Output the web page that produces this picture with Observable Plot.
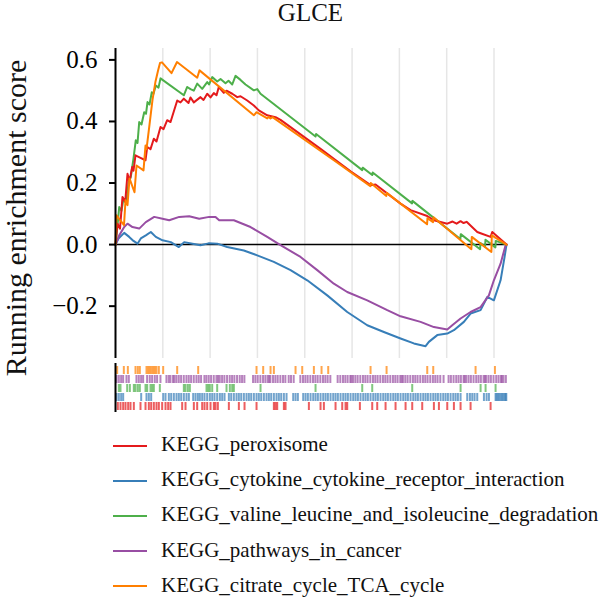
<!DOCTYPE html>
<html>
<head>
<meta charset="utf-8">
<script src="https://cdn.jsdelivr.net/npm/d3@7"></script>
<script src="https://cdn.jsdelivr.net/npm/@observablehq/plot@0.6"></script>
<style>
  html, body { margin: 0; padding: 0; background: #fff; }
  body { position: relative; width: 600px; height: 600px; overflow: hidden; font-family: "Liberation Serif", "Times New Roman", serif; color: #111; }
  #title { height: 40px; margin-left: 115px; width: 391px; text-align: center; font-size: 25px; line-height: 26px; }
  #ylabel { position: absolute; left: 16px; top: 218px; transform: translate(-50%, -50%) rotate(-90deg); white-space: nowrap; font-size: 30px; line-height: 30px; }
  #chart svg, #rug svg { display: block; }
  #legend { margin-top: 13px; }
  .row { position: relative; height: 35.2px; }
  .row .swatch { position: absolute; left: 113px; top: 17.7px; width: 34px; height: 2px; }
  .row .name { position: absolute; left: 161px; top: 0; line-height: 35.2px; font-size: 21px; white-space: nowrap; }
</style>
</head>
<body>
<div id="title">GLCE</div>
<div id="chart"></div>
<div id="rug"></div>
<div id="legend"></div>
<div id="ylabel">Running enrichment score</div>
<script>
// Gene sets, in legend order, and their colours
const geneSets = [
  "KEGG_peroxisome",
  "KEGG_cytokine_cytokine_receptor_interaction",
  "KEGG_valine_leucine_and_isoleucine_degradation",
  "KEGG_pathways_in_cancer",
  "KEGG_citrate_cycle_TCA_cycle"
];
const setColors = ["#e41a1c", "#377eb8", "#4daf4a", "#984ea3", "#ff7f00"];

// Ranked gene list length, vertical grid positions and y ticks
const rankCount = 20660;
const gridRanks = [2500, 5000, 7500, 10000, 12500, 15000, 17500, 20000];
const yTicks = [-0.2, 0, 0.2, 0.4, 0.6];

// Running enrichment score, [rank, ES]
const peroxisomeES = [[0,0],[106,0.068],[238,0.052],[370,0.155],[513,0.138],[634,0.23],[740,0.205],[883,0.252],[951,0.24],[1057,0.29],[1320,0.282],[1586,0.274],[1675,0.317],[1850,0.31],[2024,0.344],[2167,0.335],[2378,0.382],[2537,0.375],[2732,0.404],[2907,0.398],[3261,0.468],[3435,0.462],[3610,0.474],[3858,0.46],[3964,0.478],[4138,0.462],[4492,0.479],[4651,0.47],[4846,0.49],[5021,0.478],[5195,0.492],[5338,0.485],[5459,0.512],[5724,0.493],[5866,0.5],[6168,0.49],[6432,0.479],[6606,0.482],[6960,0.468],[7309,0.452],[7573,0.436],[8017,0.42],[8456,0.414],[8720,0.405],[9777,0.358],[10834,0.311],[11537,0.279],[12420,0.238],[13477,0.193],[13741,0.195],[15062,0.133],[15591,0.112],[16472,0.093],[16824,0.079],[17529,0.068],[17810,0.075],[18022,0.068],[18233,0.076],[18392,0.07],[18551,0.074],[19115,0.041],[19290,0.037],[19819,0.025],[19907,0.041],[20660,0]];
const cytokineES = [[0,0],[159,0.02],[460,0.038],[724,0.025],[951,0.012],[1163,0.003],[1337,0.02],[1601,0.03],[1866,0.041],[2130,0.025],[2484,0.014],[2923,0.008],[3345,-0.008],[3631,0.008],[4069,0.003],[4492,-0.002],[4915,0.004],[5375,0.003],[5903,-0.008],[6781,-0.019],[7489,-0.035],[8366,-0.056],[9249,-0.083],[10131,-0.116],[11188,-0.165],[12245,-0.219],[13302,-0.262],[14180,-0.284],[15062,-0.305],[15765,-0.321],[16384,-0.33],[16558,-0.316],[17002,-0.294],[17530,-0.289],[17879,-0.278],[18408,-0.251],[18762,-0.224],[19290,-0.213],[19644,-0.17],[19993,-0.181],[20347,-0.116],[20559,-0.04],[20660,0]];
const valineES = [[0,0],[79,0.045],[196,0.122],[317,0.11],[423,0.15],[581,0.14],[687,0.2],[809,0.22],[951,0.28],[1073,0.339],[1163,0.33],[1253,0.398],[1374,0.39],[1517,0.43],[1612,0.425],[1691,0.463],[1797,0.455],[1918,0.495],[2008,0.49],[2130,0.517],[2273,0.51],[2378,0.54],[2468,0.536],[3610,0.485],[3789,0.512],[3964,0.505],[4138,0.5],[4318,0.523],[4582,0.506],[4846,0.528],[4941,0.52],[5111,0.544],[5375,0.53],[5549,0.538],[5813,0.524],[5972,0.532],[6168,0.52],[6342,0.548],[6606,0.535],[6870,0.52],[7309,0.501],[7489,0.505],[7663,0.49],[10570,0.351],[10600,0.359],[13037,0.242],[13060,0.25],[13565,0.226],[13590,0.234],[15670,0.134],[15690,0.142],[16119,0.121],[18222,0.018],[18243,0.034],[19264,-0.015],[19285,0.005],[19528,-0.007],[19550,0.016],[20072,-0.009],[20094,0.012],[20660,0]];
const cancerES = [[0,0],[196,0.03],[460,0.057],[634,0.068],[898,0.057],[1253,0.052],[1601,0.073],[2045,0.09],[2484,0.084],[2838,0.079],[3367,0.09],[3895,0.092],[4424,0.084],[4952,0.09],[5285,0.09],[5480,0.079],[6252,0.079],[7135,0.057],[8017,0.025],[8720,-0.002],[9777,-0.04],[10660,-0.083],[11537,-0.127],[12245,-0.154],[13302,-0.181],[14359,-0.213],[15062,-0.233],[16119,-0.251],[16824,-0.268],[17530,-0.276],[17794,-0.262],[18233,-0.24],[18762,-0.219],[19290,-0.203],[19729,-0.165],[19993,-0.116],[20347,-0.062],[20611,-0.002],[20660,0]];
const citrateES = [[0,0],[53,0.095],[449,0.063],[529,0.144],[634,0.128],[740,0.215],[1004,0.17],[1110,0.257],[1480,0.241],[1586,0.322],[1638,0.31],[1718,0.35],[1797,0.39],[1876,0.43],[1955,0.47],[2035,0.5],[2114,0.53],[2246,0.565],[2352,0.59],[2458,0.592],[2960,0.557],[3250,0.593],[4318,0.542],[4439,0.566],[7309,0.42],[7452,0.43],[8017,0.41],[8086,0.415],[8192,0.41],[8298,0.414],[11537,0.274],[13466,0.19],[13487,0.2],[14312,0.158],[14333,0.168],[16463,0.066],[16484,0.086],[16780,0.073],[16801,0.089],[18804,-0.015],[18826,0.025],[19861,-0.024],[19883,0.03],[20660,0]];

// Ranks of each set's member genes in the ordered list
const peroxisomeHits = [123,264,405,529,669,793,969,1321,1586,1762,1885,2026,2167,2290,2466,2643,2783,2907,3523,3700,4140,4316,4580,4704,4845,5021,5197,5285,5408,5990,6518,6818,7452,8368,8456,8544,8897,8985,10218,10834,11011,11627,11980,12156,12244,12913,13565,13829,14270,14798,15327,15679,16207,16824,17089,17529,17881,18233,18762,19819];
const cytokineHits = [53,176,299,405,1357,1638,1762,1885,2519,2643,2819,2942,3083,3224,3347,3471,3611,3752,3876,4105,4228,4351,4457,4580,4704,4845,4986,5109,5232,5373,5514,5637,5761,5990,6113,6254,6395,6518,6642,6783,6923,7047,7170,7311,7452,7575,7699,7840,7980,8104,8227,8368,8509,8632,8756,8897,9038,9390,9513,9636,9918,10042,10165,10306,10447,10570,10694,10834,10975,11099,11222,11363,11504,11627,11750,11891,12032,12156,12279,12420,12561,12684,12808,12948,13089,13213,13336,13477,13618,13741,13864,14005,14146,14270,14393,14534,14675,14798,14921,15062,15203,15327,15450,15591,15732,15855,15978,16119,16260,16384,16507,16648,16789,16912,17036,17176,17317,17441,17564,17705,17846,17969,18092,18233,18586,18727,18850,18973,19114,19467,19608,19731,20083,20136,20206,20277,20347,20418,20488,20559,20612,20650];
const valineHits = [176,264,617,758,969,1057,1180,1286,1586,1674,1850,1938,2026,2343,3611,3700,3823,3929,4809,4898,4986,5109,5373,5866,6043,6166,6254,7663,10570,13037,13565,15679,18234,19291,19555,20083];
const cancerHits = [52,175,298,404,580,703,1108,1231,1354,1460,1671,1812,1935,2076,2199,2375,2692,2815,2903,3040,3114,3220,3343,3466,3607,3748,3871,3994,4135,4276,4399,4522,4698,4804,4927,5050,5191,5332,5420,5508,5631,5754,5895,6036,6159,6282,6423,6564,6687,6810,7268,7391,7514,7655,7796,7919,8042,8120,8183,8324,8447,8570,8711,8852,8975,9151,9274,9415,9767,9908,10031,10154,10295,10436,10559,10682,10823,10964,11087,11210,11351,11738,11879,12020,12143,12266,12407,12460,12548,12671,12794,12935,13076,13199,13322,13463,13604,13727,13850,13991,14132,14255,14378,14519,14660,14783,14906,15047,15120,15188,15311,15434,15575,15716,15839,15962,16103,16244,16367,16490,16631,16772,16895,17018,17159,17335,17599,17722,17863,18004,18127,18250,18391,18450,18532,18655,18778,18919,19060,19183,19306,19447,19520,19588,19711,19834,19975,20116,20239,20362,20420,20503,20626];
const citrateHits = [88,440,652,1057,1180,1286,1638,1726,1815,1903,1991,2079,2167,2290,2519,3259,4369,7452,7804,8192,8368,9513,9866,10482,10887,11240,13477,14323,16472,16789,19026,20048];

const curves = [peroxisomeES, cytokineES, valineES, cancerES, citrateES];
const hits = [peroxisomeHits, cytokineHits, valineHits, cancerHits, citrateHits];
const drawOrder = [1, 3, 2, 0, 4];
const rugOrder = [4, 3, 2, 1, 0];

const font = '"Liberation Serif", "Times New Roman", serif';
const color = {domain: geneSets, range: setColors};
const xScale = {domain: [0, rankCount], axis: null};

const esRows = drawOrder.flatMap(i => curves[i].map(([rank, es]) => ({set: geneSets[i], rank, es})));
const rugRows = rugOrder.flatMap(i => hits[i].map(rank => ({set: geneSets[i], rank})));

const main = Plot.plot({
  width: 600, height: 322,
  marginLeft: 115, marginRight: 94, marginTop: 8, marginBottom: 4,
  style: {fontFamily: font, color: "#000", background: "#fff", overflow: "visible"},
  x: xScale,
  y: {domain: [-0.37, 0.637], axis: null},
  color,
  marks: [
    Plot.ruleX(gridRanks, {stroke: "#e6e6e6", strokeWidth: 1.5}),
    Plot.ruleY([0], {stroke: "#000", strokeWidth: 1.5}),
    Plot.line(esRows, {x: "rank", y: "es", z: "set", stroke: "set", strokeWidth: 2}),
    Plot.ruleX([0], {stroke: "#000", strokeWidth: 2}),
    Plot.axisY({ticks: yTicks, tickFormat: d3.format(".1f"), tickSize: 6, tickPadding: 12, fontSize: 25, strokeWidth: 2, label: null})
  ]
});
document.getElementById("chart").append(main);

const rug = Plot.plot({
  width: 600, height: 52,
  marginLeft: 115, marginRight: 94, marginTop: 1, marginBottom: 2,
  style: {fontFamily: font, background: "#fff"},
  x: xScale,
  y: {type: "band", domain: rugOrder.map(i => geneSets[i]), padding: 0, axis: null},
  color,
  marks: [
    Plot.tickX(rugRows, {x: "rank", y: "set", stroke: "set", strokeWidth: 2, strokeOpacity: 0.7, insetTop: 1}),
    Plot.ruleX([0], {stroke: "#000", strokeWidth: 2})
  ]
});
document.getElementById("rug").append(rug);

// Legend rows below the chart
const legend = document.getElementById("legend");
geneSets.forEach((name, i) => {
  const row = document.createElement("div");
  row.className = "row";
  const sw = document.createElement("div");
  sw.className = "swatch";
  sw.style.background = setColors[i];
  const label = document.createElement("div");
  label.className = "name";
  label.textContent = name;
  row.append(sw, label);
  legend.append(row);
});
</script>
</body>
</html>
